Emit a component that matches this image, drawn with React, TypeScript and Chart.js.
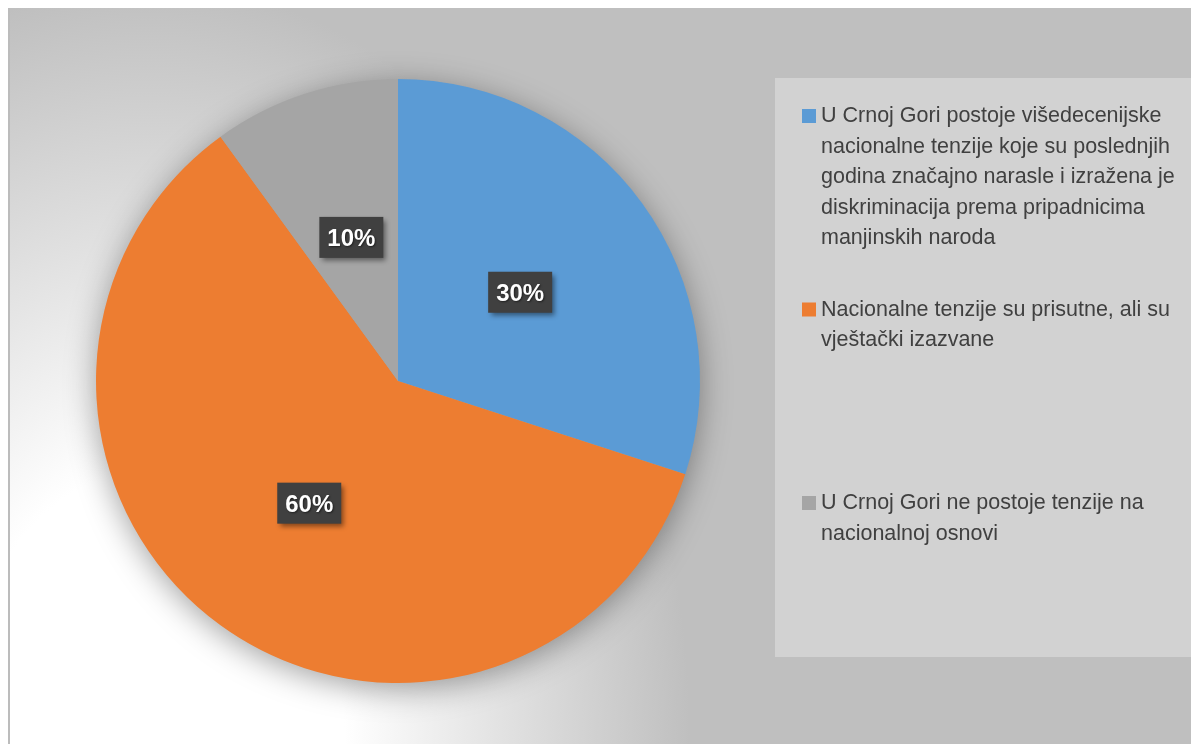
import React, { useEffect, useRef } from "react";
import { Chart, registerables } from "chart.js";

Chart.register(...registerables);

// ---- Data ----
const categoryLines: string[][] = [
  [
    "U Crnoj Gori postoje višedecenijske",
    "nacionalne tenzije koje su poslednjih",
    "godina značajno narasle i izražena je",
    "diskriminacija prema pripadnicima",
    "manjinskih naroda",
  ],
  ["Nacionalne tenzije su prisutne, ali su", "vještački izazvane"],
  ["U Crnoj Gori ne postoje tenzije na", "nacionalnoj osnovi"],
];
const categories: string[] = categoryLines.map((l) => l.join(" "));
const values: number[] = [30, 60, 10];
const valueLabels: string[] = ["30%", "60%", "10%"];
const sliceColors: string[] = ["#5b9bd5", "#ed7d31", "#a5a5a5"];

const W = 1183;
const H = 736;
const FONT = '"Liberation Sans", Arial, sans-serif';

const pieShadowPlugin = {
  id: "pieShadow",
  beforeDatasetsDraw(chart: any) {
    const arc = chart.getDatasetMeta(0).data[0];
    if (!arc) return;
    const { x, y, outerRadius } = arc.getProps(["x", "y", "outerRadius"], true);
    const ctx = chart.ctx;
    ctx.save();
    ctx.shadowColor = "rgba(0,0,0,0.38)";
    ctx.shadowBlur = 32;
    ctx.shadowOffsetX = 0;
    ctx.shadowOffsetY = 6;
    ctx.fillStyle = "#a5a5a5";
    ctx.beginPath();
    ctx.arc(x, y, outerRadius - 1, 0, Math.PI * 2);
    ctx.fill();
    ctx.restore();
  },
};

const valueLabelPlugin = {
  id: "valueLabels",
  afterDatasetsDraw(chart: any) {
    const ctx = chart.ctx;
    const meta = chart.getDatasetMeta(0);
    meta.data.forEach((arc: any, i: number) => {
      const p = arc.tooltipPosition(true);
      const bw = 64;
      const bh = 41;
      ctx.save();
      ctx.shadowColor = "rgba(0,0,0,0.45)";
      ctx.shadowBlur = 5;
      ctx.shadowOffsetX = 3;
      ctx.shadowOffsetY = 3;
      ctx.fillStyle = "#404040";
      ctx.fillRect(p.x - bw / 2, p.y - bh / 2, bw, bh);
      ctx.restore();
      ctx.save();
      ctx.font = "bold 24px " + FONT;
      ctx.textAlign = "center";
      ctx.textBaseline = "alphabetic";
      ctx.shadowColor = "rgba(0,0,0,0.5)";
      ctx.shadowBlur = 2;
      ctx.shadowOffsetX = 1;
      ctx.shadowOffsetY = 1;
      ctx.fillStyle = "#ffffff";
      ctx.fillText(valueLabels[i], p.x, p.y + 8.5);
      ctx.restore();
    });
  },
};

const legendBoxPlugin = {
  id: "legendBox",
  afterDraw(chart: any) {
    const ctx = chart.ctx;
    const boxX = 767;
    const boxY = 70;
    const boxW = W - boxX;
    const boxH = 579;
    ctx.save();
    ctx.fillStyle = "#d2d2d2";
    ctx.fillRect(boxX, boxY, boxW, boxH);
    ctx.font = "21.5px " + FONT;
    ctx.textAlign = "left";
    ctx.textBaseline = "alphabetic";
    const firstBaseline = 114;
    const entryStep = 193.5;
    const lineH = 30.5;
    categoryLines.forEach((lines, i) => {
      const base = firstBaseline + i * entryStep;
      ctx.fillStyle = sliceColors[i];
      ctx.fillRect(794, base - 13, 14, 14);
      ctx.fillStyle = "#404040";
      lines.forEach((line, j) => {
        ctx.fillText(line, 813, base + j * lineH);
      });
    });
    ctx.restore();
  },
};

export default function App() {
  const canvasRef = useRef<HTMLCanvasElement | null>(null);

  useEffect(() => {
    if (!canvasRef.current) return;
    const chart = new Chart(canvasRef.current, {
      type: "pie",
      data: {
        labels: categories,
        datasets: [
          {
            data: values,
            backgroundColor: sliceColors,
            borderWidth: 0,
          },
        ],
      },
      options: {
        responsive: false,
        animation: false,
        devicePixelRatio: 1,
        rotation: 0,
        layout: {
          padding: { left: 88, top: 71, right: 491, bottom: 61 },
        },
        plugins: {
          legend: { display: false },
          tooltip: { enabled: false },
          title: { display: false },
        },
      },
      plugins: [pieShadowPlugin, valueLabelPlugin, legendBoxPlugin],
    });
    return () => chart.destroy();
  }, []);

  return (
    <div
      style={{
        position: "fixed",
        left: 8,
        top: 8,
        width: "calc(100vw - 8px)",
        height: "calc(100vh - 8px)",
        background:
          "radial-gradient(540px 760px at 142px 736px, #ffffff 0%, #ffffff 36%, #bfbfbf 100%)",
        boxShadow: "inset 2px 0 0 #bcbcbc",
        overflow: "hidden",
      }}
    >
      <canvas ref={canvasRef} width={W} height={H} style={{ display: "block" }} />
    </div>
  );
}
